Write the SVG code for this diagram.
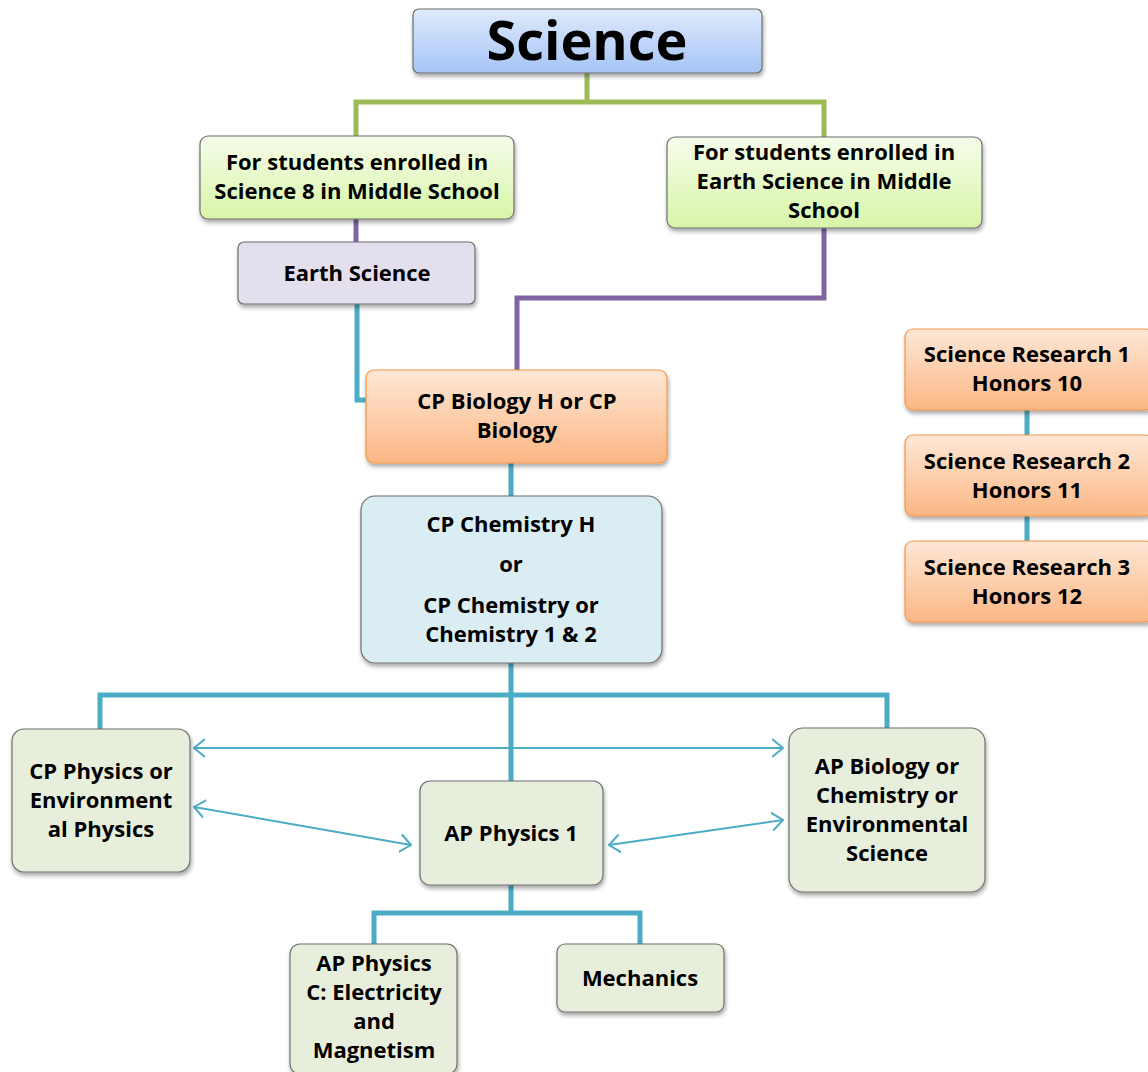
<svg xmlns="http://www.w3.org/2000/svg" width="1148" height="1072" viewBox="0 0 1148 1072">
<defs>
<linearGradient id="gBlue" x1="0" y1="0" x2="0" y2="1"><stop offset="0" stop-color="#dfeafc"/><stop offset="1" stop-color="#a5c4f6"/></linearGradient>
<linearGradient id="gGreen" x1="0" y1="0" x2="0" y2="1"><stop offset="0" stop-color="#f6fdea"/><stop offset="1" stop-color="#d8f5a8"/></linearGradient>
<linearGradient id="gOrange" x1="0" y1="0" x2="0" y2="1"><stop offset="0" stop-color="#fee7d6"/><stop offset="1" stop-color="#fbb784"/></linearGradient>
<filter id="sh" x="-10%" y="-10%" width="130%" height="140%"><feDropShadow dx="1" dy="3" stdDeviation="2" flood-color="#000" flood-opacity="0.35"/></filter>
<marker id="ah" viewBox="0 0 12 20" refX="11" refY="10" markerWidth="12" markerHeight="20" markerUnits="userSpaceOnUse" orient="auto-start-reverse"><path d="M0,1 L11,10 L0,19" fill="none" stroke="#4bacc6" stroke-width="2"/></marker>
</defs>
<style>
text{font-family:"Open Sans","Liberation Sans",sans-serif;font-weight:bold;font-size:22px;fill:#000;text-anchor:middle}
.box{stroke:#6f6f6f;stroke-width:1.2;filter:url(#sh)}
.sage{fill:#e8eedc}
.or{fill:url(#gOrange);stroke:#f79646}
.gr{fill:url(#gGreen)}
.c{fill:none;stroke-linejoin:miter}
.cg{stroke:#9bbb59;stroke-width:5}
.cp{stroke:#8064a2;stroke-width:5}
.cb{stroke:#4bacc6;stroke-width:5}
.ca{stroke:#4bacc6;stroke-width:2;marker-start:url(#ah);marker-end:url(#ah)}
</style>
<rect width="1148" height="1072" fill="#fff"/>
<g id="connectors">
<path class="c cg" d="M587,73 V102 M356,137 V102 H824 V137"/>
<path class="c cp" d="M356,219 V242"/>
<path class="c cp" d="M824,228 V298 H517 V370"/>
<path class="c cb" d="M357,304 V400 H367"/>
<path class="c cb" d="M511,463 V497"/>
<path class="c cb" d="M511,663 V781 M100,729 V695 H887 V728"/>
<path class="c cb" d="M511,885 V913 M374,944 V913 H640 V944"/>
<path class="c cb" d="M1027,410 V435 M1027,516 V541"/>
<path class="c ca" d="M194,748 H783"/>
<path class="c ca" d="M194,807 L411,845"/>
<path class="c ca" d="M609,845 L783,820"/>
</g>
<g id="science"><rect class="box" x="413" y="9" width="349" height="64" rx="6" fill="url(#gBlue)"/><text x="587" y="60" style="font-size:54px">Science</text></g>
<g id="ms-science8"><rect class="box gr" x="200" y="136" width="314" height="83" rx="8"/><text x="357" y="170">For students enrolled in</text><text x="357" y="199">Science 8 in Middle School</text></g>
<g id="ms-earth"><rect class="box gr" x="667" y="137" width="315" height="91" rx="8"/><text x="824" y="160">For students enrolled in</text><text x="824" y="189">Earth Science in Middle</text><text x="824" y="218">School</text></g>
<g id="earth-science"><rect class="box" x="238" y="242" width="237" height="62" rx="6" fill="#e4dfec"/><text x="357" y="281">Earth Science</text></g>
<g id="cp-biology"><rect class="box or" x="366" y="370" width="301" height="93" rx="8"/><text x="517" y="409">CP Biology H or CP</text><text x="517" y="438">Biology</text></g>
<g id="chemistry"><rect class="box" x="361" y="496" width="301" height="167" rx="14" fill="#daedf3"/><text x="511" y="532">CP Chemistry H</text><text x="511" y="572">or</text><text x="511" y="613">CP Chemistry or</text><text x="511" y="642">Chemistry 1 &amp; 2</text></g>
<g id="cp-physics"><rect class="box sage" x="12" y="729" width="178" height="143" rx="12"/><text x="101" y="779">CP Physics or</text><text x="101" y="808">Environment</text><text x="101" y="837">al Physics</text></g>
<g id="ap-physics1"><rect class="box sage" x="420" y="781" width="183" height="104" rx="10"/><text x="511" y="841">AP Physics 1</text></g>
<g id="ap-bio"><rect class="box sage" x="789" y="728" width="196" height="164" rx="14"/><text x="887" y="774">AP Biology or</text><text x="887" y="803">Chemistry or</text><text x="887" y="832">Environmental</text><text x="887" y="861">Science</text></g>
<g id="ap-physics-c"><rect class="box sage" x="290" y="944" width="167" height="130" rx="10"/><text x="374" y="971">AP Physics</text><text x="374" y="1000">C: Electricity</text><text x="374" y="1029">and</text><text x="374" y="1058">Magnetism</text></g>
<g id="mechanics"><rect class="box sage" x="557" y="944" width="167" height="68" rx="8"/><text x="640" y="986">Mechanics</text></g>
<g id="research1"><rect class="box or" x="905" y="329" width="248" height="81" rx="8"/><text x="1027" y="362">Science Research 1</text><text x="1027" y="391">Honors 10</text></g>
<g id="research2"><rect class="box or" x="905" y="435" width="248" height="81" rx="8"/><text x="1027" y="469">Science Research 2</text><text x="1027" y="498">Honors 11</text></g>
<g id="research3"><rect class="box or" x="905" y="541" width="248" height="81" rx="8"/><text x="1027" y="575">Science Research 3</text><text x="1027" y="604">Honors 12</text></g>
</svg>
